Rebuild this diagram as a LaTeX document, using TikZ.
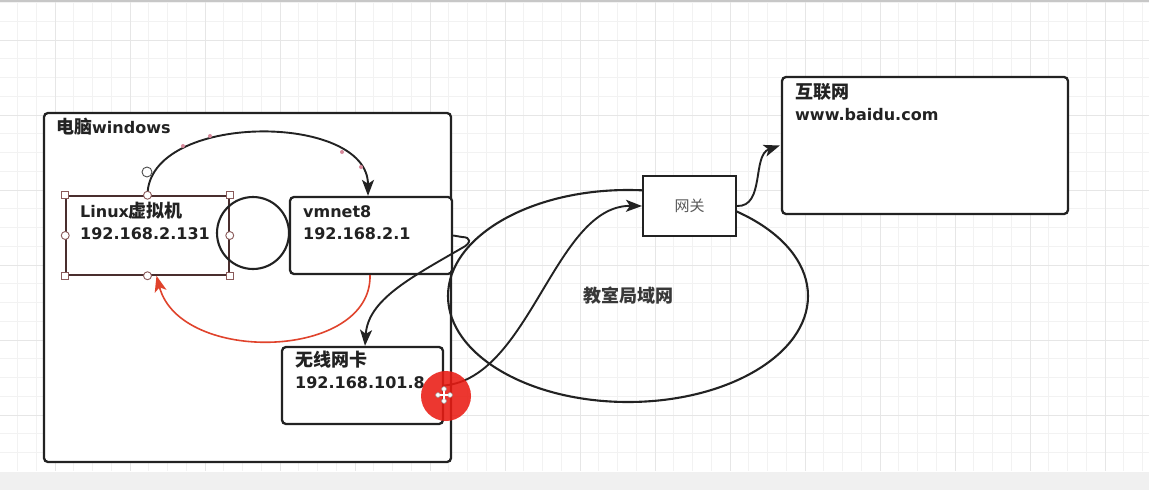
\documentclass[tikz,border=0pt]{standalone}
\usepackage{fontspec}
\setmainfont{DejaVu Sans}
\newfontfamily\cjk{Noto Sans CJK SC}
\usetikzlibrary{arrows.meta,shapes.geometric}
\definecolor{ink}{HTML}{222222}
\definecolor{gridminor}{HTML}{F2F2F2}
\definecolor{gridmajor}{HTML}{E6E6E6}
\definecolor{selbrown}{HTML}{4A2E2E}
\definecolor{handle}{HTML}{8A5A5A}
\definecolor{redarc}{HTML}{E0432C}
\definecolor{cursorred}{HTML}{EA1C14}
\definecolor{pinkdot}{HTML}{D88A9C}
\newcommand{\zh}[1]{{\cjk\fontsize{18}{20}\selectfont\bfseries #1}}
\newcommand{\lat}{\fontsize{16}{20}\selectfont\bfseries}
\tikzset{
  box/.style={draw=ink, line width=2.3pt, fill=white, rounded corners=4pt, inner sep=0pt},
  plainbox/.style={draw=ink, line width=2.1pt, fill=white, inner sep=0pt},
  lbl/.style={anchor=base west, inner sep=0pt, text=ink, font=\lat},
  conn/.style={draw=ink, line width=1.9pt, -{Stealth[length=16pt,width=12pt,inset=4pt]}},
  redconn/.style={draw=redarc, line width=1.6pt, -{Stealth[length=16pt,width=12pt,inset=4pt]}},
  sqhandle/.style={draw=handle, fill=white, line width=0.9pt, minimum size=7pt, inner sep=0pt, rectangle},
  cihandle/.style={draw=handle, fill=white, line width=0.9pt, minimum size=8pt, inner sep=0pt, circle},
}
\begin{document}
\begin{tikzpicture}[x=1pt,y=-1pt]
\useasboundingbox (0,0) rectangle (1149,490);
% background and grid
\fill[white] (0,0) rectangle (1149,490);
\foreach \x in {17.5,36.25,...,1149} \draw[gridminor, line width=0.9pt] (\x,0) -- (\x,471);
\foreach \y in {2.5,21.25,...,471} \draw[gridminor, line width=0.9pt] (0,\y) -- (1149,\y);
\foreach \x in {55,130,...,1149} \draw[gridmajor, line width=1pt] (\x,0) -- (\x,471);
\foreach \y in {40,115,...,471} \draw[gridmajor, line width=1pt] (0,\y) -- (1149,\y);
\fill[black!6] (0,472) rectangle (1149,490);
\fill[black!22] (0,0) rectangle (1149,1.6);

% PC container
\node[box, minimum width=407pt, minimum height=349pt] (pc) at (247.5,287.5) {};
\node[lbl] (pctitle) at (56,133) {\zh{电脑}windows};

% Linux VM (selected)
\node[draw=selbrown, line width=1.5pt, fill=white, inner sep=0pt, minimum width=163pt, minimum height=79pt] (linux) at (147.5,235.5) {};
\node[lbl] (linux1) at (80,217) {Linux\zh{虚拟机}};
\node[lbl] (linux2) at (80,239) {192.168.2.131};

% loop circle
\node[draw=ink, line width=2.1pt, circle, minimum size=72pt, inner sep=0pt] (loop) at (253,233) {};

% vmnet8
\node[box, minimum width=162pt, minimum height=77pt] (vmnet) at (371,235.5) {};
\node[lbl] (vm1) at (303,217) {vmnet8};
\node[lbl] (vm2) at (303,239) {192.168.2.1};

% wireless card
\node[box, minimum width=161pt, minimum height=77pt] (wifi) at (362.5,385.5) {};
\node[lbl] (wifi1) at (295,366) {\zh{无线网卡}};
\node[lbl] (wifi2) at (295,388) {192.168.101.8};

% classroom LAN
\node[draw=ink, line width=2.1pt, ellipse, minimum width=360pt, minimum height=212pt, inner sep=0pt,
      font=\cjk\fontsize{18}{20}\selectfont\bfseries, text=ink!90] (lan) at (628,296) {教室局域网};

% internet
\node[box, minimum width=286pt, minimum height=137pt] (inet) at (925,145.5) {};
\node[lbl] (inet1) at (795,98) {\zh{互联网}};
\node[lbl] (inet2) at (795,120) {www.baidu.com};

% gateway
\node[plainbox, minimum width=93pt, minimum height=60pt, font=\cjk\fontsize{15}{18}\selectfont, text=black!65] (gw) at (689.5,206) {网关};

% connectors
\draw[conn] (linux.north) .. controls (148,112) and (368,112) .. ([xshift=-3pt]vmnet.north);
\draw[redconn] ([xshift=-1pt]vmnet.south) .. controls (372,360) and (180,365) .. ([xshift=9pt]linux.south);
\coordinate (hp1) at (462,237);
\coordinate (hp2) at (462,248);
\draw[conn] (vmnet.east) -- (hp1) .. controls (471,237) and (472,243) .. (hp2)
  .. controls (410,278) and (368,300) .. ([xshift=2.5pt]wifi.north);
\draw[conn] (wifi.east) .. controls (530,378) and (555,205) .. (gw.west);
\draw[conn] (gw.east) .. controls (765,207) and (752,155) .. ([xshift=-1pt]inet.west);

% selection handles on Linux box
\node[sqhandle] (hnw) at (linux.north west) {};
\node[sqhandle] (hne) at (linux.north east) {};
\node[sqhandle] (hsw) at (linux.south west) {};
\node[sqhandle] (hse) at (linux.south east) {};
\node[cihandle] (hn) at (linux.north) {};
\node[cihandle] (hs) at (linux.south) {};
\node[cihandle] (hw) at (linux.west) {};
\node[cihandle] (he) at (linux.east) {};
\node[draw=black!70, fill=white, line width=0.9pt, circle, minimum size=10pt, inner sep=0pt] (hedge) at (147,172) {};
% waypoint dots on the upper connector
\foreach \px/\py in {183/146,210/136,342/152,361/167} \fill[pinkdot] (\px,\py) circle (2pt);

% cursor highlight
\fill[cursorred, opacity=0.88] (446,396) circle (25pt);
\foreach \px/\py in {444/389,444/401,438/395,450/395} \draw[black!40, fill=white, line width=0.6pt] (\px,\py) circle (2.4pt);
\draw[white, line width=1.2pt] (440,395) -- (448,395) (444,391) -- (444,399);
\end{tikzpicture}
\end{document}
